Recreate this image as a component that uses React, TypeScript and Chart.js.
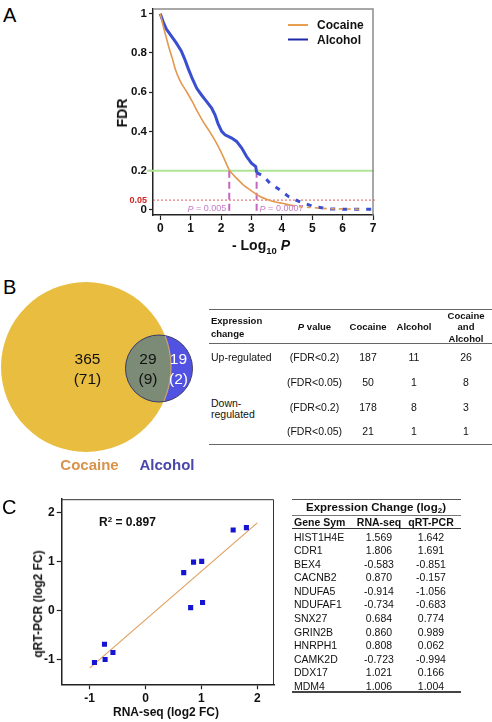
import React, { useEffect, useRef } from "react";
import { Chart, registerables } from "chart.js";
Chart.register(...registerables);

const FONT = "'Liberation Sans', Arial, Helvetica, sans-serif";
Chart.defaults.font.family = FONT;

// ---------- Panel A data ----------
const cocaineX = [0, 0.1, 0.2, 0.29, 0.4, 0.5, 0.66, 0.86, 1.05, 1.22, 1.44, 1.62, 1.85, 2.07, 2.27, 2.51, 2.73, 3.0, 3.28, 3.56, 3.83, 4.0, 4.3, 4.6, 4.9, 5.3, 5.6, 5.9, 6.3, 6.65];
const cocaineY = [1, 0.935, 0.877, 0.825, 0.77, 0.714, 0.655, 0.604, 0.553, 0.502, 0.442, 0.4, 0.34, 0.272, 0.204, 0.162, 0.128, 0.097, 0.068, 0.051, 0.039, 0.034, 0.024, 0.016, 0.013, 0.008, 0.006, 0.005, 0.004, 0.003];
const alcoholX = [0, 0.09, 0.2, 0.36, 0.53, 0.69, 0.8, 0.92, 1.05, 1.2, 1.35, 1.52, 1.69, 1.8, 1.9, 2.02, 2.13, 2.35, 2.51, 2.68, 2.84, 3.0, 3.14, 3.17, 3.39, 3.61, 3.94, 4.22, 4.52, 5.04, 5.6, 6.09, 6.98];
const alcoholY = [1, 0.96, 0.922, 0.887, 0.85, 0.81, 0.77, 0.72, 0.67, 0.62, 0.587, 0.553, 0.519, 0.485, 0.44, 0.4, 0.383, 0.366, 0.349, 0.315, 0.272, 0.238, 0.221, 0.19, 0.173, 0.136, 0.102, 0.068, 0.046, 0.017, 0.005, 0.003, 0.003];
const seriesLabelsA = ["Cocaine", "Alcohol"];
const fdrThreshold = 0.2;
const fdrStrict = 0.05;
const pCutX = [2.27, 3.17];
const pCutValues = ["0.005", "0.0007"];
const xTicksA = [0, 1, 2, 3, 4, 5, 6, 7];
const yTicksA = [0, 0.05, 0.2, 0.4, 0.6, 0.8, 1];

// ---------- Panel B data ----------
const vennSets = ["Cocaine", "Alcohol"];
const vennCenterX = [0, 73];
const vennCenterY = [0, -1.5];
const vennRadius = [85, 33.5];
const vennCounts = ["365", "29", "19"];
const vennStrictCounts = ["(71)", "(9)", "(2)"];

const tbChange = ["Up-regulated", "", "Down-|regulated", ""];
const tbPValue = ["(FDR<0.2)", "(FDR<0.05)", "(FDR<0.2)", "(FDR<0.05)"];
const tbCocaine = [187, 50, 178, 21];
const tbAlcohol = [11, 1, 8, 1];
const tbBoth = [26, 8, 3, 1];

// ---------- Panel C data ----------
const genes = ["HIST1H4E", "CDR1", "BEX4", "CACNB2", "NDUFA5", "NDUFAF1", "SNX27", "GRIN2B", "HNRPH1", "CAMK2D", "DDX17", "MDM4"];
const rnaSeq = [1.569, 1.806, -0.583, 0.87, -0.914, -0.734, 0.684, 0.86, 0.808, -0.723, 1.021, 1.006];
const qrtPcr = [1.642, 1.691, -0.851, -0.157, -1.056, -0.683, 0.774, 0.989, 0.062, -0.994, 0.166, 1.004];
const notPlotted = ["CACNB2"];
const rSquared = "0.897";
const fitSlope = 0.986;
const fitIntercept = -0.184;
const fitRange = [-1, 2];
const xTicksC = [-1, 0, 1, 2];
const yTicksC = [-1, 0, 1, 2];

// ---------- helpers ----------
function ChartCanvas({ make, left, top, width, height }: any) {
  const ref = useRef<HTMLCanvasElement>(null);
  useEffect(() => {
    const c = new Chart(ref.current as HTMLCanvasElement, make());
    return () => c.destroy();
  }, []);
  return (
    <canvas
      ref={ref}
      width={width}
      height={height}
      style={{ position: "absolute", left, top, width, height }}
    />
  );
}

function Txt({ x, y, size = 11, bold = false, italic = false, color = "#111", align = "center", rotate = 0, lh = 1.15, children }: any) {
  const tx = align === "left" ? "0" : align === "right" ? "-100%" : "-50%";
  return (
    <div
      style={{
        position: "absolute",
        left: x,
        top: y,
        transform: `translate(${tx},-50%)${rotate ? ` rotate(${rotate}deg)` : ""}`,
        fontSize: size,
        fontWeight: bold ? 700 : 400,
        fontStyle: italic ? "italic" : "normal",
        color,
        whiteSpace: "nowrap",
        lineHeight: typeof lh === "number" && lh < 4 ? lh : `${lh}px`,
        textAlign: align,
      }}
    >
      {children}
    </div>
  );
}

function HLine({ x1, x2, y, w = 1, color = "#555" }: any) {
  return <div style={{ position: "absolute", left: x1, top: y - w / 2, width: x2 - x1, height: w, background: color }} />;
}

function seg(ctx: any, x1: number, y1: number, x2: number, y2: number) {
  ctx.beginPath();
  ctx.moveTo(x1, y1);
  ctx.lineTo(x2, y2);
  ctx.stroke();
}

// ---------- Panel A ----------
const legendColorsA = ["#e8a050", "#1f2aa8"];
const panelAPlugin = {
  id: "panelA",
  beforeDatasetsDraw(chart: any) {
    const { ctx, chartArea: a, scales } = chart;
    const x = scales.x, y = scales.y;
    ctx.save();
    const y2 = y.getPixelForValue(fdrThreshold);
    ctx.strokeStyle = "#aee496";
    ctx.lineWidth = 2;
    seg(ctx, a.left - 6, y2, a.right + 1, y2);
    const y05 = y.getPixelForValue(fdrStrict);
    ctx.strokeStyle = "#e05a5a";
    ctx.lineWidth = 1;
    ctx.setLineDash([2, 2]);
    seg(ctx, a.left, y05, a.right + 2, y05);
    ctx.strokeStyle = "#c466c4";
    ctx.lineWidth = 2;
    ctx.setLineDash([7, 4]);
    pCutX.forEach((v) => {
      const px = x.getPixelForValue(v);
      seg(ctx, px, y2, px, a.bottom);
    });
    ctx.restore();
  },
  afterDraw(chart: any) {
    const { ctx, chartArea: a, scales } = chart;
    const x = scales.x;
    ctx.save();
    ctx.setLineDash([]);
    ctx.strokeStyle = "#8c8c8c";
    ctx.lineWidth = 1.5;
    ctx.beginPath();
    ctx.moveTo(a.left, a.top);
    ctx.lineTo(a.right, a.top);
    ctx.lineTo(a.right, a.bottom);
    ctx.stroke();
    // P labels
    ctx.fillStyle = "#c47ac8";
    ctx.textBaseline = "middle";
    ctx.textAlign = "left";
    const ly = a.bottom - 6;
    pCutX.forEach((v, i) => {
      const px = x.getPixelForValue(v);
      const rest = " = " + pCutValues[i];
      ctx.font = `italic 9px ${FONT}`;
      const wP = ctx.measureText("P").width;
      ctx.font = `9px ${FONT}`;
      const wR = ctx.measureText(rest).width;
      const start = i === 0 ? px - 3 - wP - wR : px + 3;
      ctx.font = `italic 9px ${FONT}`;
      ctx.fillText("P", start, ly);
      ctx.font = `9px ${FONT}`;
      ctx.fillText(rest, start + wP, ly);
    });
    // legend
    chart.data.datasets.forEach((ds: any, i: number) => {
      const yy = a.top + 16 + i * 14.5;
      ctx.strokeStyle = legendColorsA[i];
      ctx.lineWidth = 2;
      seg(ctx, a.right - 85, yy, a.right - 65, yy);
      ctx.fillStyle = "#111";
      ctx.font = `bold 12px ${FONT}`;
      ctx.fillText(ds.label, a.right - 56, yy + 0.8);
    });
    ctx.restore();
  },
};

function makeA() {
  return {
    type: "scatter",
    data: {
      datasets: [
        {
          label: seriesLabelsA[0],
          data: cocaineX.map((v, i) => ({ x: v, y: cocaineY[i] })),
          showLine: true,
          borderColor: "#e3994e",
          backgroundColor: "#e3994e",
          borderWidth: 1.6,
          pointRadius: 0,
          cubicInterpolationMode: "monotone",
          segment: { borderDash: (c: any) => (c.p0.parsed.x >= 4.3 ? [4, 4] : undefined) },
        },
        {
          label: seriesLabelsA[1],
          data: alcoholX.map((v, i) => ({ x: v, y: alcoholY[i] })),
          showLine: true,
          borderColor: "#3a4ed0",
          backgroundColor: "#3a4ed0",
          borderWidth: 3,
          pointRadius: 0,
          segment: { borderDash: (c: any) => (c.p0.parsed.x >= 3.17 ? [5, 7] : undefined) },
        },
      ],
    },
    options: {
      responsive: false,
      animation: false,
      devicePixelRatio: 1,
      events: [],
      layout: { autoPadding: false, padding: { left: 100, top: 9, right: 7, bottom: 0 } },
      plugins: { legend: { display: false }, tooltip: { enabled: false } },
      scales: {
        x: {
          type: "linear",
          min: -0.24,
          max: 7,
          afterBuildTicks: (s: any) => { s.ticks = xTicksA.map((v) => ({ value: v })); },
          afterFit: (s: any) => { s.height = 40; },
          grid: { drawOnChartArea: false, drawTicks: true, tickLength: 5, tickColor: "#222", tickWidth: 1.2 },
          border: { color: "#222", width: 1.5 },
          ticks: { autoSkip: false, maxRotation: 0, padding: 1, color: "#111", font: { size: 12, weight: "bold" }, callback: (v: any) => String(v) },
        },
        y: {
          type: "linear",
          min: -0.026,
          max: 1.024,
          afterBuildTicks: (s: any) => { s.ticks = yTicksA.map((v) => ({ value: v })); },
          afterFit: (s: any) => { s.width = 53; },
          grid: {
            drawOnChartArea: false,
            drawTicks: true,
            tickLength: 4,
            tickWidth: 1.2,
            tickColor: (c: any) => (c.tick && c.tick.value === fdrStrict ? "rgba(0,0,0,0)" : "#222"),
          },
          border: { color: "#222", width: 1.5 },
          ticks: {
            autoSkip: false,
            padding: 2,
            color: (c: any) => (c.tick && c.tick.value === fdrStrict ? "#d42424" : "#111"),
            font: (c: any) => (c.tick && c.tick.value === fdrStrict ? { size: 9, weight: "bold" } : { size: 11.5, weight: "bold" }),
            callback: (v: any) => String(v),
          },
        },
      },
    },
    plugins: [panelAPlugin],
  };
}

// ---------- Panel B (Venn) ----------
const vennPlugin = {
  id: "venn",
  afterDatasetsDraw(chart: any) {
    const { ctx } = chart;
    const xs = chart.scales.x, ys = chart.scales.y;
    const ax = xs.getPixelForValue(vennCenterX[0]), ay = ys.getPixelForValue(vennCenterY[0]);
    const bx = xs.getPixelForValue(vennCenterX[1]), by = ys.getPixelForValue(vennCenterY[1]);
    const ra = vennRadius[0], rb = vennRadius[1];
    ctx.save();
    ctx.beginPath();
    ctx.arc(ax, ay, ra, 0, Math.PI * 2);
    ctx.clip();
    ctx.beginPath();
    ctx.arc(bx, by, rb, 0, Math.PI * 2);
    ctx.fillStyle = "#7b8b76";
    ctx.fill();
    ctx.restore();
    ctx.save();
    ctx.beginPath();
    ctx.arc(bx, by, rb, 0, Math.PI * 2);
    ctx.clip();
    ctx.beginPath();
    ctx.arc(ax, ay, ra, 0, Math.PI * 2);
    ctx.strokeStyle = "#c9a46c";
    ctx.lineWidth = 1.2;
    ctx.stroke();
    ctx.restore();
    ctx.save();
    ctx.beginPath();
    ctx.arc(bx, by, rb, 0, Math.PI * 2);
    ctx.strokeStyle = "#3e3e66";
    ctx.lineWidth = 1;
    ctx.stroke();
    ctx.restore();
  },
};

function makeB() {
  return {
    type: "scatter",
    data: {
      datasets: [
        {
          label: vennSets[0],
          data: [{ x: vennCenterX[0], y: vennCenterY[0] }],
          pointRadius: vennRadius[0],
          pointStyle: "circle",
          backgroundColor: "#e9bd3f",
          borderWidth: 0,
          order: 2,
          clip: false,
        },
        {
          label: vennSets[1],
          data: [{ x: vennCenterX[1], y: vennCenterY[1] }],
          pointRadius: vennRadius[1],
          pointStyle: "circle",
          backgroundColor: "#5252e2",
          borderWidth: 0,
          order: 1,
          clip: false,
        },
      ],
    },
    options: {
      responsive: false,
      animation: false,
      devicePixelRatio: 1,
      events: [],
      layout: { autoPadding: false, padding: 0 },
      plugins: { legend: { display: false }, tooltip: { enabled: false } },
      scales: {
        x: { display: false, type: "linear", min: -86, max: 119 },
        y: { display: false, type: "linear", min: -93, max: 97 },
      },
    },
    plugins: [vennPlugin],
  };
}

// ---------- Panel C ----------
const panelCPlugin = {
  id: "panelC",
  afterDraw(chart: any) {
    const { ctx, chartArea: a } = chart;
    ctx.save();
    ctx.strokeStyle = "#333";
    ctx.lineWidth = 1;
    ctx.beginPath();
    ctx.moveTo(a.left, a.top + 0.5);
    ctx.lineTo(a.right - 0.5, a.top + 0.5);
    ctx.lineTo(a.right - 0.5, a.bottom);
    ctx.stroke();
    ctx.restore();
  },
};

function makeC() {
  const pts = genes
    .map((g, i) => ({ g, x: rnaSeq[i], y: qrtPcr[i] }))
    .filter((p) => notPlotted.indexOf(p.g) < 0)
    .map((p) => ({ x: p.x, y: p.y }));
  return {
    type: "scatter",
    data: {
      datasets: [
        {
          label: "qRT-PCR vs RNA-seq",
          data: pts,
          pointStyle: "rect",
          pointRadius: 3.6,
          backgroundColor: "#1414d2",
          borderWidth: 0,
        },
        {
          label: "fit",
          data: fitRange.map((v) => ({ x: v, y: fitSlope * v + fitIntercept })),
          showLine: true,
          borderColor: "#e2a060",
          borderWidth: 1.2,
          pointRadius: 0,
        },
      ],
    },
    options: {
      responsive: false,
      animation: false,
      devicePixelRatio: 1,
      events: [],
      layout: { autoPadding: false, padding: { left: 20, top: 8.3, right: 11, bottom: 0 } },
      plugins: { legend: { display: false }, tooltip: { enabled: false } },
      scales: {
        x: {
          type: "linear",
          min: -1.5,
          max: 2.3,
          afterBuildTicks: (s: any) => { s.ticks = xTicksC.map((v) => ({ value: v })); },
          afterFit: (s: any) => { s.height = 37.7; },
          grid: { drawOnChartArea: false, drawTicks: true, tickLength: 5, tickColor: "#222", tickWidth: 1.2 },
          border: { color: "#222", width: 1.5 },
          ticks: { autoSkip: false, maxRotation: 0, padding: 2, color: "#111", font: { size: 12, weight: "bold" }, callback: (v: any) => String(v) },
        },
        y: {
          type: "linear",
          min: -1.5,
          max: 2.27,
          afterBuildTicks: (s: any) => { s.ticks = yTicksC.map((v) => ({ value: v })); },
          afterFit: (s: any) => { s.width = 41.7; },
          grid: { drawOnChartArea: false, drawTicks: true, tickLength: 5, tickColor: "#222", tickWidth: 1.2 },
          border: { color: "#222", width: 1.5 },
          ticks: { autoSkip: false, padding: 2, color: "#111", font: { size: 12, weight: "bold" }, callback: (v: any) => String(v) },
        },
      },
    },
    plugins: [panelCPlugin],
  };
}

// ---------- App ----------
export default function App() {
  const rowY = [357, 381.5, 406.5, 430.5];
  const colCenters = { p: 314.5, coc: 368, alc: 414, both: 466 };
  const geneRowY0 = 536.7;
  const geneStep = 13.55;
  return (
    <div
      style={{
        position: "absolute",
        left: 0,
        top: 0,
        width: 492,
        height: 722,
        background: "#fff",
        fontFamily: FONT,
        overflow: "hidden",
        color: "#111",
      }}
    >
      {/* Panel A */}
      <Txt x={3} y={14.5} size={20} align="left" color="#000">A</Txt>
      <ChartCanvas make={makeA} left={0} top={0} width={380} height={255} />
      <Txt x={122} y={113} size={14} bold rotate={-90}>FDR</Txt>
      <Txt x={261} y={245} size={14} bold>
        {"- Log"}
        <span style={{ fontSize: 9.5, position: "relative", top: 4 }}>10</span>
        {" "}
        <i>P</i>
      </Txt>

      {/* Panel B */}
      <Txt x={3} y={286.5} size={20} align="left" color="#000">B</Txt>
      <ChartCanvas make={makeB} left={0} top={270} width={205} height={190} />
      <Txt x={87.5} y={369} size={15.5} lh={1.3}>
        {vennCounts[0]}<br />{vennStrictCounts[0]}
      </Txt>
      <Txt x={148} y={368.5} size={15.5} lh={1.3}>
        {vennCounts[1]}<br />{vennStrictCounts[1]}
      </Txt>
      <Txt x={178.5} y={368.5} size={15.5} lh={1.3} color="#fff">
        {vennCounts[2]}<br />{vennStrictCounts[2]}
      </Txt>
      <Txt x={89.5} y={465} size={15} bold color="#d8924a">{vennSets[0]}</Txt>
      <Txt x={167} y={465} size={15} bold color="#4a46aa">{vennSets[1]}</Txt>

      {/* Table B */}
      <HLine x1={209} x2={492} y={309} color="#666" />
      <HLine x1={209} x2={492} y={343} color="#666" />
      <HLine x1={209} x2={492} y={444} color="#666" />
      <Txt x={211} y={327} size={9.5} bold align="left" lh={12.5}>
        Expression<br />change
      </Txt>
      <Txt x={colCenters.p} y={327} size={9.5} bold>
        <i>P</i> value
      </Txt>
      <Txt x={colCenters.coc} y={327} size={9.5} bold>Cocaine</Txt>
      <Txt x={colCenters.alc} y={327} size={9.5} bold>Alcohol</Txt>
      <Txt x={colCenters.both} y={327} size={9.5} bold lh={11.3}>
        Cocaine<br />and<br />Alcohol
      </Txt>
      {tbChange.map((lbl, i) =>
        lbl ? (
          <Txt key={"c" + i} x={211} y={lbl.indexOf("|") >= 0 ? rowY[i] + 1.5 : rowY[i]} size={10.5} align="left" lh={10.5}>
            {lbl.split("|").map((s, j) => (
              <React.Fragment key={j}>
                {j > 0 && <br />}
                {s}
              </React.Fragment>
            ))}
          </Txt>
        ) : null
      )}
      {tbPValue.map((v, i) => (
        <Txt key={"p" + i} x={colCenters.p} y={rowY[i]} size={10.5}>{v}</Txt>
      ))}
      {tbCocaine.map((v, i) => (
        <Txt key={"k" + i} x={colCenters.coc} y={rowY[i]} size={10.5}>{String(v)}</Txt>
      ))}
      {tbAlcohol.map((v, i) => (
        <Txt key={"a" + i} x={colCenters.alc} y={rowY[i]} size={10.5}>{String(v)}</Txt>
      ))}
      {tbBoth.map((v, i) => (
        <Txt key={"b" + i} x={colCenters.both} y={rowY[i]} size={10.5}>{String(v)}</Txt>
      ))}

      {/* Panel C */}
      <Txt x={2} y={506.5} size={20} align="left" color="#000">C</Txt>
      <ChartCanvas make={makeC} left={0} top={490} width={285} height={232} />
      <Txt x={39} y={604} size={12} bold rotate={-90}>qRT-PCR (log2 FC)</Txt>
      <Txt x={166} y={713} size={12} bold>RNA-seq (log2 FC)</Txt>
      <Txt x={99} y={523} size={12} bold align="left">
        R<span style={{ fontSize: 8, position: "relative", top: -4 }}>2</span> = {rSquared}
      </Txt>

      {/* Table C */}
      <HLine x1={292} x2={461} y={499.5} color="#555" />
      <HLine x1={292} x2={461} y={515.5} color="#777" />
      <HLine x1={292} x2={461} y={528.7} w={1.5} color="#333" />
      <HLine x1={292} x2={461} y={692} w={1.5} color="#444" />
      <Txt x={376} y={507.5} size={11.5} bold>
        Expression Change (log
        <span style={{ fontSize: 8, position: "relative", top: 2.5 }}>2</span>)
      </Txt>
      <Txt x={294} y={522} size={10.5} bold align="left">Gene Sym</Txt>
      <Txt x={379} y={522} size={10.5} bold>RNA-seq</Txt>
      <Txt x={431} y={522} size={10.5} bold>qRT-PCR</Txt>
      {genes.map((g, i) => (
        <React.Fragment key={g}>
          <Txt x={294} y={geneRowY0 + i * geneStep} size={10.5} align="left">{g}</Txt>
          <Txt x={379} y={geneRowY0 + i * geneStep} size={10.5}>{rnaSeq[i].toFixed(3)}</Txt>
          <Txt x={431} y={geneRowY0 + i * geneStep} size={10.5}>{qrtPcr[i].toFixed(3)}</Txt>
        </React.Fragment>
      ))}
    </div>
  );
}
